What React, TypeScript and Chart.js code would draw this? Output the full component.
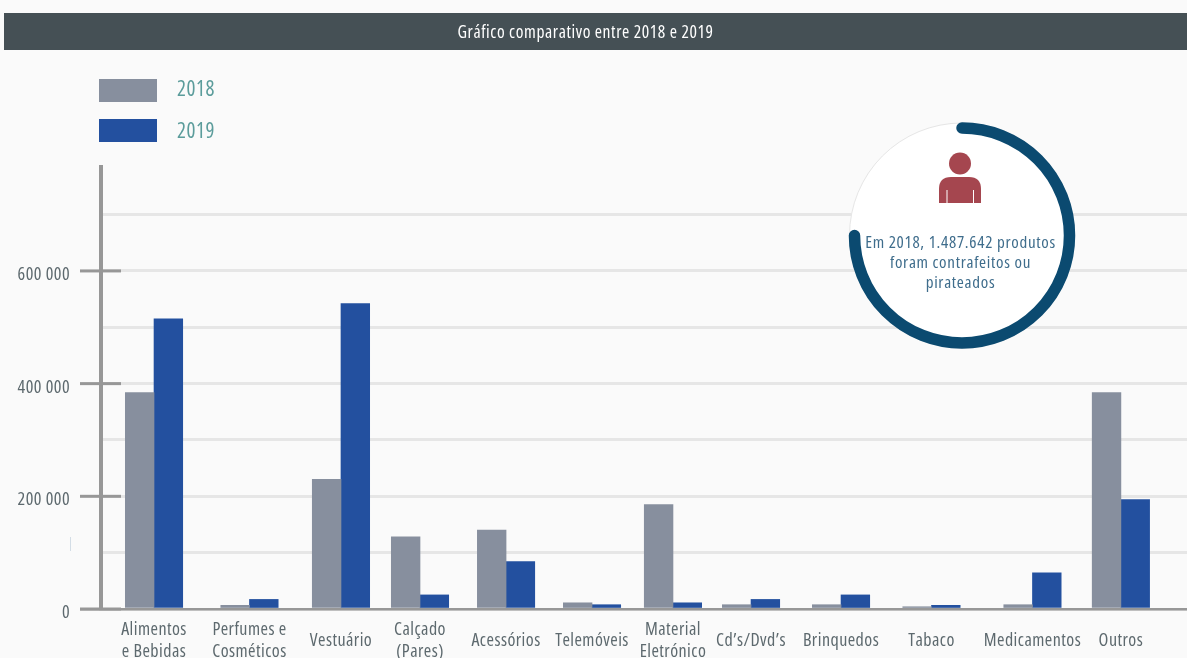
import React, { useEffect, useRef } from "react";
import { Chart, registerables } from "chart.js";

Chart.register(...registerables);

const categories: (string | string[])[] = [
  ["Alimentos", "e Bebidas"],
  ["Perfumes e", "Cosméticos"],
  "Vestuário",
  ["Calçado", "(Pares)"],
  "Acessórios",
  "Telemóveis",
  ["Material", "Eletrónico"],
  "Cd’s/Dvd’s",
  "Brinquedos",
  "Tabaco",
  "Medicamentos",
  "Outros",
];

// Groups are not evenly spaced along the axis, so each sits at its own slot.
const categorySlots = [0, 1.086, 2.127, 3.026, 4.005, 4.983, 5.904, 6.792, 7.816, 8.845, 9.994, 11];

const values2018 = [384000, 6500, 230000, 128000, 140000, 11000, 185500, 7600, 7600, 4000, 7600, 384000];
const values2019 = [515000, 17000, 542000, 25000, 84000, 7600, 11000, 17000, 25000, 6500, 64000, 194000];

const gridValues = [0, 100000, 200000, 300000, 400000, 500000, 600000, 700000];
const labelledValues = [0, 200000, 400000, 600000];

const titleText = "Gráfico comparativo entre 2018 e 2019";
const calloutLines = ["Em 2018, 1.487.642 produtos", "foram contrafeitos ou", "pirateados"];

const FONT = "'Open Sans', sans-serif";
const STRETCH = "semi-condensed";
const AXIS_GREY = "#979797";
const BACKGROUND = "#fafafa";

function formatThousands(v: number): string {
  return v === 0 ? "0" : `${v / 1000} 000`;
}

function pointsOf(values: number[]) {
  return values.map((y, i) => ({ x: categorySlots[i], y }));
}

function setFont(ctx: any, size: number, spacing: number) {
  ctx.font = `${size}px ${FONT}`;
  ctx.fontStretch = STRETCH;
  ctx.letterSpacing = `${spacing}px`;
}

const pagePlugin = {
  id: "page",
  beforeDraw(chart: any) {
    const { ctx, width, height } = chart;
    // Narrow face and tracking shared by the axis labels
    ctx.fontStretch = STRETCH;
    ctx.letterSpacing = "0.45px";
    ctx.save();
    ctx.fillStyle = BACKGROUND;
    ctx.fillRect(0, 0, width, height);

    // Header band
    ctx.fillStyle = "#455055";
    ctx.fillRect(4, 13, width - 4, 37);
    ctx.fillStyle = "#ffffff";
    setFont(ctx, 17.5, 0.6);
    ctx.textAlign = "center";
    ctx.textBaseline = "middle";
    ctx.fillText(titleText, 585.5, 33.5);

    // Legend, read from the datasets
    chart.data.datasets.forEach((ds: any, i: number) => {
      const top = 79 + i * 40;
      ctx.fillStyle = ds.backgroundColor;
      ctx.fillRect(99, top, 58, 23);
      ctx.fillStyle = "#5b9c9b";
      setFont(ctx, 21, 0.6);
      ctx.textAlign = "left";
      ctx.fillText(ds.label, 177, 90 + i * 42);
    });
    ctx.restore();
  },
  afterDatasetsDraw(chart: any) {
    const { ctx, scales } = chart;
    const yScale = scales.y;
    ctx.save();
    ctx.fillStyle = AXIS_GREY;

    // Vertical axis line
    ctx.fillRect(99, yScale.top, 4, yScale.bottom - yScale.top);

    // Baseline
    const zero = yScale.getPixelForValue(0);
    ctx.fillRect(80, zero - 1, chart.width - 80, 2.5);

    // Cross marks at the labelled values
    labelledValues.forEach((v) => {
      ctx.fillRect(80, yScale.getPixelForValue(v) - 1.5, 41, 3);
    });

    // Small stray rule left of the axis
    ctx.fillStyle = "#d3dde6";
    ctx.fillRect(70, 537, 1, 14);
    ctx.restore();

    drawCallout(ctx);
  },
};

function drawCallout(ctx: CanvasRenderingContext2D) {
  const cx = 962;
  const cy = 235.5;
  ctx.save();

  ctx.beginPath();
  ctx.arc(cx, cy, 112.5, 0, Math.PI * 2);
  ctx.fillStyle = "#ffffff";
  ctx.fill();
  ctx.strokeStyle = "#e6e6e6";
  ctx.lineWidth = 1;
  ctx.stroke();

  ctx.beginPath();
  ctx.arc(cx, cy, 107.5, -Math.PI / 2, Math.PI);
  ctx.strokeStyle = "#0b4a70";
  ctx.lineWidth = 11.5;
  ctx.lineCap = "round";
  ctx.stroke();

  // Person icon
  ctx.fillStyle = "#a5464f";
  ctx.beginPath();
  ctx.arc(960, 163.5, 11, 0, Math.PI * 2);
  ctx.fill();
  ctx.beginPath();
  ctx.moveTo(939, 203);
  ctx.lineTo(939, 189);
  ctx.quadraticCurveTo(939, 177, 951, 177);
  ctx.lineTo(969, 177);
  ctx.quadraticCurveTo(981, 177, 981, 189);
  ctx.lineTo(981, 203);
  ctx.closePath();
  ctx.fill();
  ctx.fillStyle = "#ffffff";
  ctx.fillRect(946.5, 190, 1, 13);
  ctx.fillRect(973, 190, 1, 13);

  // Caption
  ctx.fillStyle = "#3f6d8c";
  setFont(ctx, 17, 0.7);
  ctx.textAlign = "center";
  ctx.textBaseline = "middle";
  calloutLines.forEach((line, i) => ctx.fillText(line, 960.5, 243 + i * 20));
  ctx.restore();
}

export default function App() {
  const ref = useRef<HTMLCanvasElement>(null);

  useEffect(() => {
    document.body.style.margin = "0";
    document.body.style.background = BACKGROUND;
    const chart = new Chart(ref.current!, {
      type: "bar",
      data: {
        datasets: [
          { label: "2018", data: pointsOf(values2018), backgroundColor: "#878f9e", barThickness: 28.7 } as any,
          { label: "2019", data: pointsOf(values2019), backgroundColor: "#23509f", barThickness: 28.7 } as any,
        ],
      },
      options: {
        responsive: false,
        animation: false,
        layout: { padding: { top: 165, left: 0, right: 0, bottom: 0 } },
        plugins: { legend: { display: false }, title: { display: false }, tooltip: { enabled: false } },
        scales: {
          x: {
            type: "linear",
            offset: false,
            min: -0.626,
            max: 11.752,
            grid: { display: false, drawTicks: false },
            border: { display: false },
            afterBuildTicks: (scale: any) => {
              scale.ticks = categorySlots.map((value) => ({ value }));
            },
            afterFit: (scale: any) => {
              scale.height = 49;
            },
            ticks: {
              autoSkip: false,
              maxRotation: 0,
              minRotation: 0,
              padding: 21,
              crossAlign: "center",
              color: "#5d696e",
              font: { family: FONT, size: 18, lineHeight: 1.23 },
              callback: (value: any) => categories[categorySlots.indexOf(value)],
            },
          },
          y: {
            min: 0,
            max: 788000,
            grid: { color: "#e6e6e6", lineWidth: 3, drawTicks: false, tickLength: 0 },
            border: { display: false },
            afterBuildTicks: (scale: any) => {
              scale.ticks = gridValues.map((value) => ({ value }));
            },
            afterFit: (scale: any) => {
              scale.width = 99;
            },
            ticks: {
              padding: 29,
              labelOffset: 4,
              color: "#5d696e",
              font: { family: FONT, size: 18 },
              callback: (value: any) =>
                labelledValues.includes(value) ? formatThousands(value) : "",
            },
          },
        },
      },
      plugins: [pagePlugin],
    });
    return () => chart.destroy();
  }, []);

  return <canvas ref={ref} width={1187} height={658} style={{ display: "block" }} />;
}
